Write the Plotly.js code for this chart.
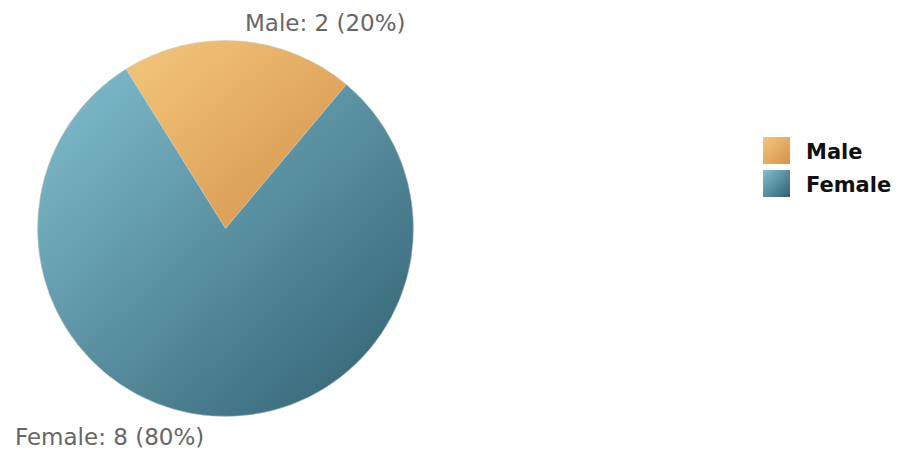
<!DOCTYPE html>
<html>
<head>
<meta charset="utf-8">
<script src="https://cdn.plot.ly/plotly-3.0.1.min.js"></script>
<style>html,body{margin:0;padding:0;background:#fff;}#chart{width:903px;height:453px;}</style>
</head>
<body>
<div id="chart"></div>
<script>
const categories = ["Male", "Female"];
const counts = [2, 8];
const colors = ["#e4a65e", "#5b97a8"];
const gradLight = ["#f3c77c", "#82bfd0"];
const gradDark = ["#d4914a", "#2f5f6f"];

const total = counts.reduce((a, b) => a + b, 0);
const labelText = categories.map((c, i) => c + ": " + counts[i] + " (" + Math.round(counts[i] / total * 100) + "%)");

const W = 903, H = 453;
const px = x => x / W;
const py = y => 1 - y / H;

const data = [{
  type: "pie",
  labels: categories,
  values: counts,
  sort: false,
  direction: "clockwise",
  rotation: -32,
  textinfo: "none",
  hoverinfo: "none",
  marker: { colors: colors, line: { color: "rgba(205,205,195,0.9)", width: 0.6 } },
  domain: { x: [px(37.5), px(413.5)], y: [py(416.5), py(40.5)] },
  showlegend: false
}];

const labelPos = [[325.5, 23], [109, 437]];
const annotations = labelText.map((t, i) => ({
  text: t, xref: "paper", yref: "paper",
  x: px(labelPos[i][0]), y: py(labelPos[i][1]),
  xanchor: "center", yanchor: "middle", showarrow: false,
  font: { family: "DejaVu Sans", size: 23, color: "#666666" }
}));

const legendY = [150.5, 183.5];
const shapes = categories.map((c, i) => ({
  type: "rect", xref: "paper", yref: "paper",
  x0: px(763), x1: px(790), y0: py(legendY[i] + 13.5), y1: py(legendY[i] - 13.5),
  fillcolor: colors[i], line: { width: 0 }
}));
categories.forEach((c, i) => annotations.push({
  text: "<b>" + c + "</b>", xref: "paper", yref: "paper",
  x: px(804), y: py(legendY[i] + 1), xanchor: "left", yanchor: "middle", showarrow: false,
  font: { family: "DejaVu Sans", size: 21, color: "#111111" }
}));

const layout = {
  width: W, height: H,
  margin: { l: 0, r: 0, t: 0, b: 0 },
  paper_bgcolor: "#ffffff",
  showlegend: false,
  annotations: annotations,
  shapes: shapes
};

Plotly.newPlot("chart", data, layout, { displayModeBar: false, staticPlot: true }).then(gd => {
  const svg = gd.querySelector("svg.main-svg");
  const NS = "http://www.w3.org/2000/svg";
  let defs = svg.querySelector("defs");
  if (!defs) { defs = document.createElementNS(NS, "defs"); svg.insertBefore(defs, svg.firstChild); }
  categories.forEach((c, i) => {
    const g = document.createElementNS(NS, "linearGradient");
    g.setAttribute("id", "grad" + i);
    g.setAttribute("x1", "0"); g.setAttribute("y1", "0");
    g.setAttribute("x2", "1"); g.setAttribute("y2", "1");
    const s1 = document.createElementNS(NS, "stop");
    s1.setAttribute("offset", "0"); s1.setAttribute("stop-color", gradLight[i]);
    const s2 = document.createElementNS(NS, "stop");
    s2.setAttribute("offset", "1"); s2.setAttribute("stop-color", gradDark[i]);
    g.appendChild(s1); g.appendChild(s2);
    defs.appendChild(g);
  });
  gd.querySelectorAll(".slice path.surface").forEach((p, i) => { p.style.fill = "url(#grad" + i + ")"; });
  gd.querySelectorAll(".shapelayer path").forEach((p, i) => { p.style.fill = "url(#grad" + i + ")"; p.style.fillOpacity = 1; });
});
</script>
</body>
</html>
